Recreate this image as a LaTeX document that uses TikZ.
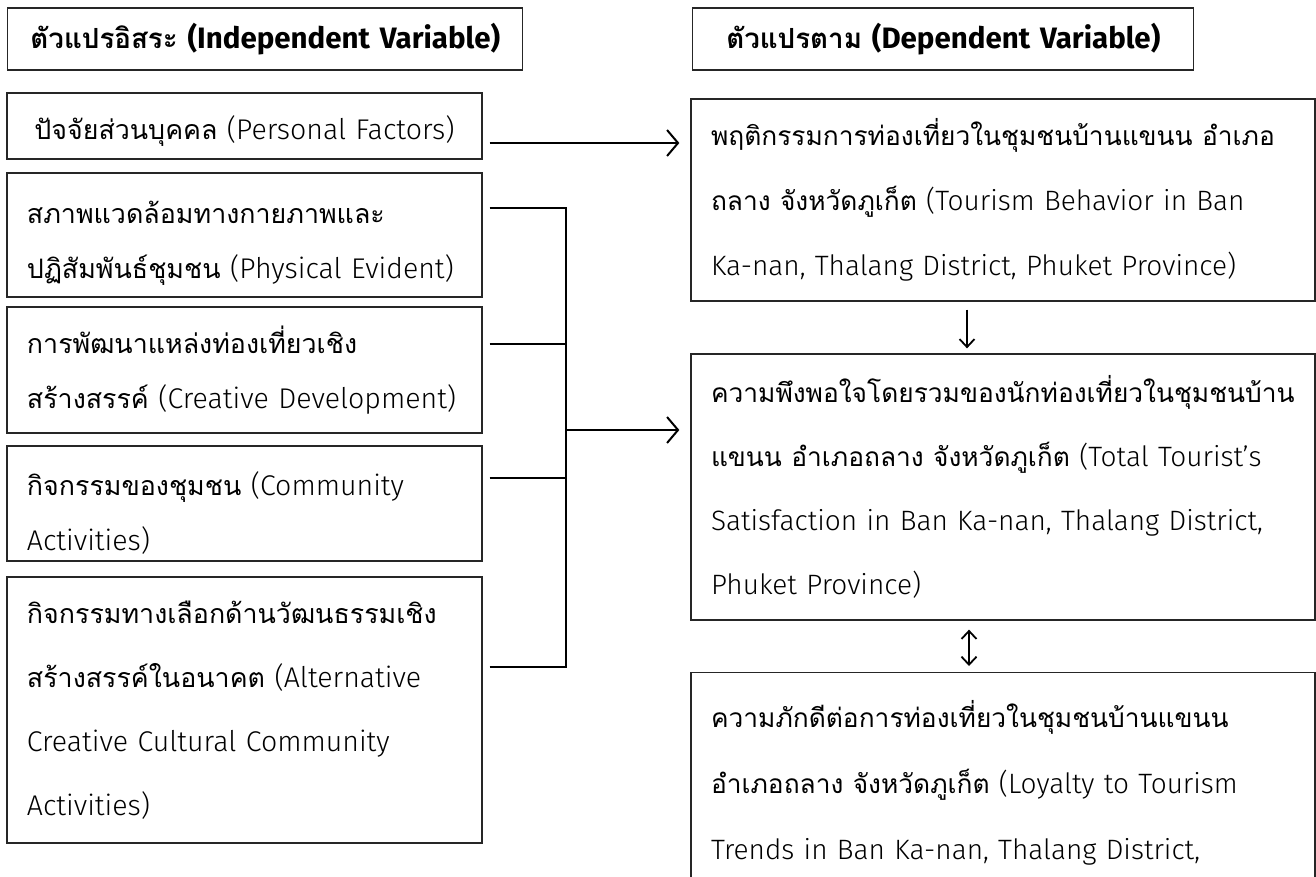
\documentclass[tikz,border=0pt]{standalone}
\usepackage{fontspec}
\IfFontExistsTF{Fira Sans Light}{\setmainfont{Fira Sans Light}[BoldFont={Fira Sans}]}{\setmainfont{Fira Sans}}
\newfontfamily\headlatin{Fira Sans}
\newfontfamily\thaifont[Script=Thai,Scale=0.94,BoldFont=Loma]{Loma}
\newfontfamily\thaihead[Script=Thai,Scale=0.94]{Loma}
\newcommand{\T}[1]{{\thaifont #1}}
\newcommand{\TB}[1]{{\thaihead\bfseries #1}}
\newcommand{\oneline}[1]{\mbox{#1}}
\usetikzlibrary{arrows.meta,calc}
\begin{document}
\begin{tikzpicture}[x=1pt,y=-1pt,
  boxbase/.style={draw=black!85, line width=1.3pt, rectangle, inner xsep=20pt, inner ysep=0pt, anchor=center},
  hbox/.style={boxbase, align=center, font={\headlatin\fontsize{29.5}{40}\selectfont\bfseries}},
  lbox/.style={boxbase, align=left, text width=435pt, font={\fontsize{28.5}{55}\selectfont}},
  rbox/.style={boxbase, align=left, text width=584pt, font={\fontsize{28}{65}\selectfont}},
  conn/.style={line width=2pt},
  bigarr/.style={line width=2.8pt, -{Straight Barb[length=11pt,width=26pt,line width=2pt]}},
  varr/.style={line width=1.8pt, -{Straight Barb[length=8pt,width=15pt]}},
  darr/.style={line width=1.8pt, {Straight Barb[length=8pt,width=15pt]}-{Straight Barb[length=8pt,width=15pt]}}
]
\useasboundingbox (0,0) rectangle (1316,877);
\clip (0,0) rectangle (1316,877);

% headers
\node[hbox, text width=475pt, minimum height=62pt] (HL) at (265.3,39) {\oneline{\TB{ตัวแปรอิสระ} (Independent Variable)}};
\node[hbox, text width=461pt, minimum height=62pt] (HR) at (943.3,39) {\oneline{\TB{ตัวแปรตาม} (Dependent Variable)}};

% left boxes
\node[lbox, align=center, minimum height=66pt] (P) at (244.5,126) {\oneline{\rule{0pt}{34pt}\T{ปัจจัยส่วนบุคคล} (Personal Factors)}};
\node[lbox, minimum height=124pt] (Phys) at (244.5,235) {\oneline{\rule{0pt}{38pt}\T{สภาพแวดล้อมทางกายภาพและ}}\\\oneline{\T{ปฏิสัมพันธ์ชุมชน} (Physical Evident)}};
\node[lbox, minimum height=126pt] (Cre) at (244.5,370) {\oneline{\T{การพัฒนาแหล่งท่องเที่ยวเชิง}}\\\oneline{\T{สร้างสรรค์} (Creative Development)}};
\node[lbox, minimum height=115pt] (Com) at (244.5,503.5) {\oneline{\rule{0pt}{42pt}\T{กิจกรรมของชุมชน} (Community}\\\oneline{Activities)}};
\node[lbox, minimum height=266pt, font={\fontsize{28.5}{64}\selectfont}] (Alt) at (244.5,710) {\oneline{\T{กิจกรรมทางเลือกด้านวัฒนธรรมเชิง}}\\\oneline{\T{สร้างสรรค์ในอนาคต} (Alternative}\\\oneline{Creative Cultural Community}\\\oneline{Activities)}};

% right boxes
\node[rbox, minimum height=202pt] (B) at (1003,200) {\oneline{\T{พฤติกรรมการท่องเที่ยวในชุมชนบ้านแขนน อำเภอ}}\\\oneline{\T{ถลาง จังหวัดภูเก็ต} (Tourism Behavior in Ban}\\\oneline{Ka-nan, Thalang District, Phuket Province)}};
\node[rbox, minimum height=266pt, font={\fontsize{28}{64}\selectfont}] (S) at (1003,487) {\oneline{\T{ความพึงพอใจโดยรวมของนักท่องเที่ยวในชุมชนบ้าน}}\\\oneline{\T{แขนน อำเภอถลาง จังหวัดภูเก็ต} (Total Tourist’s}\\\oneline{Satisfaction in Ban Ka-nan, Thalang District,}\\\oneline{Phuket Province)}};
\node[rbox, anchor=north, inner ysep=28pt, font={\fontsize{28}{66}\selectfont}] (L) at (1003,672) {\oneline{\T{ความภักดีต่อการท่องเที่ยวในชุมชนบ้านแขนน}}\\\oneline{\T{อำเภอถลาง จังหวัดภูเก็ต} (Loyalty to Tourism}\\\oneline{Trends in Ban Ka-nan, Thalang District,}};

% connectors
\coordinate (pa) at (0,143);
\coordinate (jt) at (566,208);
\coordinate (jc) at (566,344);
\coordinate (jm) at (566,430);
\coordinate (jo) at (566,478);
\coordinate (jb) at (566,667);
\coordinate (ax) at (967,0);
\coordinate (dx) at (969,0);

\draw[bigarr, shorten <=7pt, shorten >=11pt] (P.east |- pa) -- (B.west |- pa);
\draw[conn, line cap=rect] (jt) -- (jb);
\draw[conn, shorten <=7pt] (Phys.east |- jt) -- (jt);
\draw[conn, shorten <=7pt] (Cre.east |- jc) -- (jc);
\draw[conn, shorten <=7pt] (Com.east |- jo) -- (jo);
\draw[conn, shorten <=7pt] (Alt.east |- jb) -- (jb);
\draw[bigarr, shorten >=11pt] (jm) -- (S.west |- jm);
\draw[varr, shorten <=8pt, shorten >=5pt] (B.south -| ax) -- (S.north -| ax);
\draw[darr, shorten <=9pt, shorten >=6pt] (S.south -| dx) -- (L.north -| dx);
\end{tikzpicture}
\end{document}
